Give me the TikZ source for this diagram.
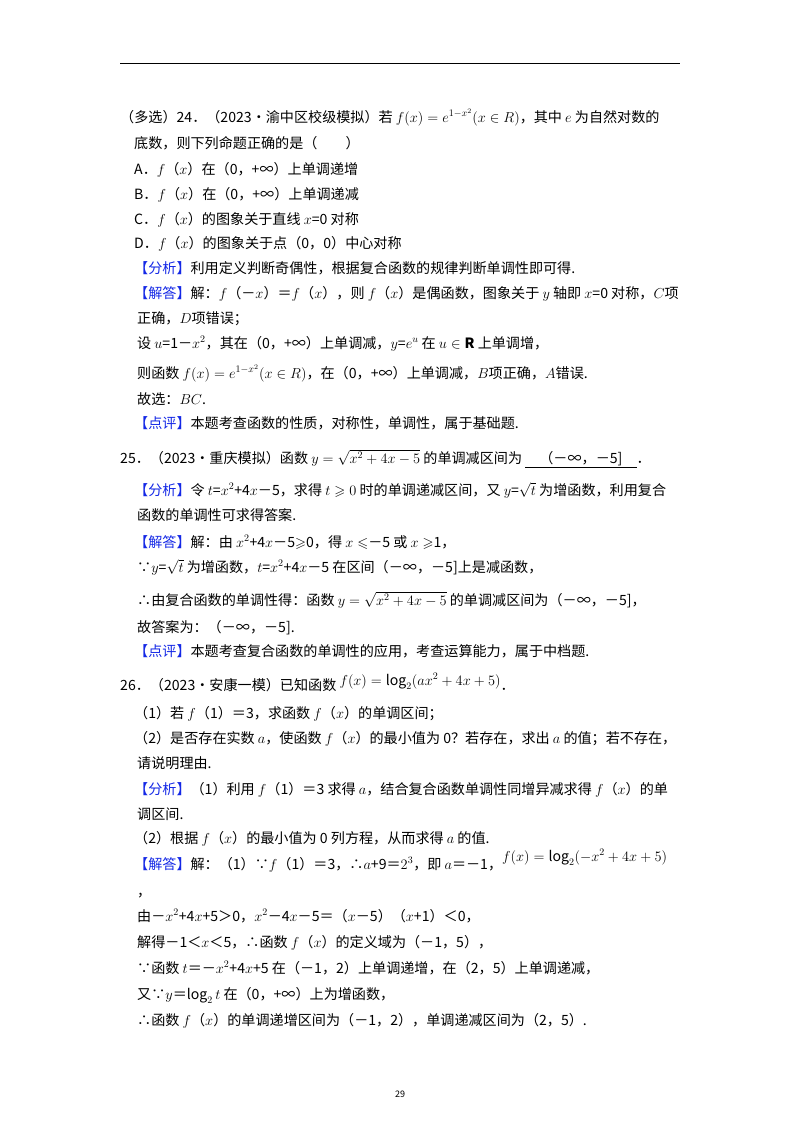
\documentclass[tikz,border=0pt]{standalone}
\usepackage{amssymb}
\usepackage{fontspec}
\setmainfont{Noto Sans CJK SC}
\definecolor{tagblue}{RGB}{20,40,230}
\newcommand{\tg}[1]{\textcolor{tagblue}{【#1】}}
\begin{document}
\begin{tikzpicture}[x=1pt,y=-1pt,
  t/.style={anchor=base west,inner sep=0pt,font=\fontsize{14.1}{16}\selectfont}]
\useasboundingbox (0,0) rectangle (800,1132);
\fill[white] (0,0) rectangle (800,1132);
\draw[line width=1pt] (120,64) -- (680,64);
\node[t] (l1) at (120,122) {（多选）24．（2023•渝中区校级模拟）若 $f(x)=e^{1-x^2}(x\in R)$，其中 $e$ 为自然对数的};
\node[t] (l2) at (134,148) {底数，则下列命题正确的是（\quad\quad）};
\node[t] (l3) at (134,174) {A．$f$（$x$）在（0，+∞）上单调递增};
\node[t] (l4) at (134,199) {B．$f$（$x$）在（0，+∞）上单调递减};
\node[t] (l5) at (134,224) {C．$f$（$x$）的图象关于直线 $x$=0 对称};
\node[t] (l6) at (134,248) {D．$f$（$x$）的图象关于点（0，0）中心对称};
\node[t] (l7) at (134,273) {\tg{分析}利用定义判断奇偶性，根据复合函数的规律判断单调性即可得.};
\node[t] (l8) at (134,298) {\tg{解答}解：$f$（－$x$）＝$f$（$x$），则 $f$（$x$）是偶函数，图象关于 $y$ 轴即 $x$=0 对称，$C$项};
\node[t] (l9) at (137,323) {正确，$D$项错误；};
\node[t] (l10) at (137,348) {设 $u$=1－$x^2$，其在（0，+∞）上单调减，$y$=$e^u$ 在 $u\in\mathbf{R}$ 上单调增，};
\node[t] (l11) at (137,378) {则函数 $f(x)=e^{1-x^2}(x\in R)$，在（0，+∞）上单调减，$B$项正确，$A$错误.};
\node[t] (l12) at (137,404) {故选：$BC$.};
\node[t] (l13) at (134,428) {\tg{点评}本题考查函数的性质，对称性，单调性，属于基础题.};
\node[t] (l14) at (120,463) {25．（2023•重庆模拟）函数 $y=\sqrt{x^2+4x-5}$ 的单调减区间为 \underline{\quad（－∞，－5]\quad}．};
\node[t] (l15) at (134,495) {\tg{分析}令 $t$=$x^2$+4$x$－5，求得 $t\geqslant0$ 时的单调递减区间，又 $y$=$\sqrt{t}$ 为增函数，利用复合};
\node[t] (l16) at (137,520) {函数的单调性可求得答案.};
\node[t] (l17) at (134,547) {\tg{解答}解：由 $x^2$+4$x$－5$\geqslant$0，得 $x\leqslant$－5 或 $x\geqslant$1，};
\node[t] (l18) at (137,572) {∵$y$=$\sqrt{t}$ 为增函数，$t$=$x^2$+4$x$－5 在区间（－∞，－5]上是减函数，};
\node[t] (l19) at (137,605) {∴由复合函数的单调性得：函数 $y=\sqrt{x^2+4x-5}$ 的单调减区间为（－∞，－5]，};
\node[t] (l20) at (137,632) {故答案为：（－∞，－5].};
\node[t] (l21) at (134,656) {\tg{点评}本题考查复合函数的单调性的应用，考查运算能力，属于中档题.};
\node[t] (l22) at (120,690) {26．（2023•安康一模）已知函数 \raisebox{5pt}{$f(x)=\log_2(ax^2+4x+5)$}．};
\node[t] (l23) at (134,718) {（1）若 $f$（1）＝3，求函数 $f$（$x$）的单调区间；};
\node[t] (l24) at (134,743) {（2）是否存在实数 $a$，使函数 $f$（$x$）的最小值为 0？若存在，求出 $a$ 的值；若不存在，};
\node[t] (l25) at (137,768) {请说明理由.};
\node[t] (l26) at (134,794) {\tg{分析}（1）利用 $f$（1）＝3 求得 $a$，结合复合函数单调性同增异减求得 $f$（$x$）的单};
\node[t] (l27) at (137,819) {调区间.};
\node[t] (l28) at (134,843) {（2）根据 $f$（$x$）的最小值为 0 列方程，从而求得 $a$ 的值.};
\node[t] (l29) at (134,869) {\tg{解答}解：（1）∵$f$（1）＝3，∴$a$+9＝$2^3$，即 $a$＝－1，\raisebox{8pt}{$f(x)=\log_2(-x^2+4x+5)$}};
\node[t] (l30) at (137,896) {，};
\node[t] (l31) at (137,921) {由－$x^2$+4$x$+5＞0，$x^2$－4$x$－5＝（$x$－5）（$x$+1）＜0，};
\node[t] (l32) at (137,947) {解得－1＜$x$＜5，∴函数 $f$（$x$）的定义域为（－1，5），};
\node[t] (l33) at (137,973) {∵函数 $t$＝－$x^2$+4$x$+5 在（－1，2）上单调递增，在（2，5）上单调递减，};
\node[t] (l34) at (137,999) {又∵$y$＝$\log_2 t$ 在（0，+∞）上为增函数，};
\node[t] (l35) at (137,1025) {∴函数 $f$（$x$）的单调递增区间为（－1，2），单调递减区间为（2，5）.};
\node[anchor=base,inner sep=0pt,font=\fontsize{9}{10}\selectfont] (pg) at (400,1097) {29};
\end{tikzpicture}
\end{document}
